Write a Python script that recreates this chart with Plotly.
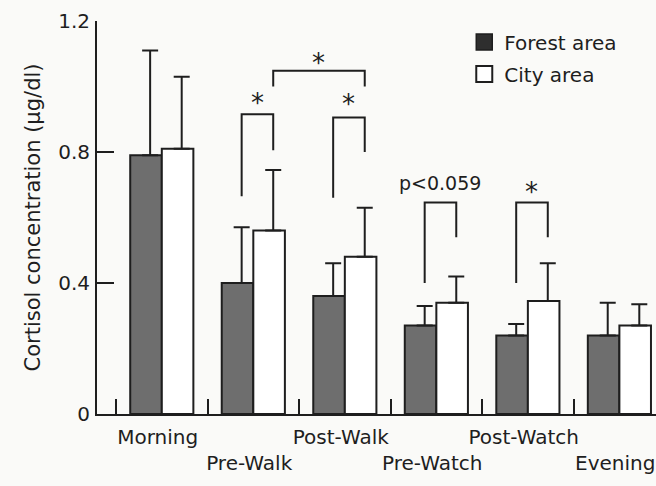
import plotly.graph_objects as go

categories = ["Morning", "Pre-Walk", "Post-Walk", "Pre-Watch", "Post-Watch", "Evening"]
tick_labels = ["Morning", "<br>Pre-Walk", "Post-Walk", "<br>Pre-Watch", "Post-Watch", "<br>Evening"]
forest_mean = [0.79, 0.40, 0.36, 0.27, 0.24, 0.24]
forest_err = [0.32, 0.17, 0.10, 0.06, 0.035, 0.10]
city_mean = [0.81, 0.56, 0.48, 0.34, 0.345, 0.27]
city_err = [0.22, 0.185, 0.15, 0.08, 0.115, 0.065]

# significance brackets: (left cat, left series, right cat, right series, top, left bottom, right bottom, label, label y)
brackets = [
    (1, "forest", 1, "city", 0.915, 0.665, 0.805, "*", 0.950),
    (2, "forest", 2, "city", 0.905, 0.660, 0.800, "*", 0.947),
    (1, "city", 2, "city", 1.048, 1.000, 1.000, "*", 1.072),
    (3, "forest", 3, "city", 0.646, 0.400, 0.540, "p<0.059", 0.704),
    (4, "forest", 4, "city", 0.646, 0.400, 0.540, "*", 0.677),
]

FONT = "DejaVu Sans"
INK = "#1e1e1e"
BG = "#fafaf8"
HALF = 0.1725      # half of a bar's width in category units
ERR_SHIFT = 0.045  # error whiskers sit slightly right of bar centre
LABEL_SHIFT = -0.045

x_idx = list(range(len(categories)))


def pos(i, series):
    return i + (-HALF if series == "forest" else HALF) + ERR_SHIFT


fig = go.Figure()
fig.add_trace(go.Bar(x=x_idx, y=forest_mean, name="Forest area", showlegend=False,
                     marker=dict(color="#6e6e6e", line=dict(color=INK, width=2))))
fig.add_trace(go.Bar(x=x_idx, y=city_mean, name="City area", showlegend=False,
                     marker=dict(color="#ffffff", line=dict(color=INK, width=2))))

# upper error whiskers
for series, means, errs in (("forest", forest_mean, forest_err), ("city", city_mean, city_err)):
    fig.add_trace(go.Scatter(
        x=[pos(i, series) for i in x_idx], y=means, mode="markers",
        marker=dict(size=1, color="rgba(0,0,0,0)"), showlegend=False, hoverinfo="skip",
        error_y=dict(type="data", symmetric=False, array=errs, arrayminus=[0] * len(errs),
                     color=INK, thickness=2, width=8)))

# legend entries
fig.add_trace(go.Scatter(x=[None], y=[None], mode="markers", name="Forest area", legendgroup="f",
                         marker=dict(symbol="square", size=16, color="#2e2e2e",
                                     line=dict(color=INK, width=1.5))))
fig.add_trace(go.Scatter(x=[None], y=[None], mode="markers", name="City area", legendgroup="c",
                         marker=dict(symbol="square", size=16, color="#ffffff",
                                     line=dict(color=INK, width=2))))

for li, ls, ri, rs, top, lb, rb, label, ly in brackets:
    xl, xr = pos(li, ls), pos(ri, rs)
    fig.add_shape(type="path", xref="x", yref="y",
                  path=f"M {xl},{lb} L {xl},{top} L {xr},{top} L {xr},{rb}",
                  line=dict(color=INK, width=2))
    fig.add_annotation(x=(xl + xr) / 2, y=ly, xref="x", yref="y", text=label, showarrow=False,
                       font=dict(family=FONT, size=26 if label == "*" else 19, color=INK),
                       yanchor="middle")

fig.update_layout(
    width=656, height=486,
    margin=dict(l=97, r=0, t=21, b=72),
    paper_bgcolor=BG, plot_bgcolor=BG,
    barmode="group", bargap=0.31, bargroupgap=0,
    font=dict(family=FONT, size=20, color=INK),
    showlegend=True,
    legend=dict(x=0.657, y=0.996, xanchor="left", yanchor="top", bgcolor="rgba(0,0,0,0)",
                tracegroupgap=3, font=dict(family=FONT, size=20, color=INK)),
    xaxis=dict(range=[-0.708, 5.40], tickmode="array", tickvals=[i + LABEL_SHIFT for i in x_idx],
               ticktext=tick_labels, tickangle=0, automargin=False, ticklabeloverflow="allow",
               ticks="", showline=True, linewidth=2, linecolor=INK, showgrid=False,
               zeroline=False, ticklabelstandoff=4,
               minor=dict(tickmode="array", tickvals=[i - 0.5 for i in x_idx],
                          ticks="inside", ticklen=15, tickwidth=2, tickcolor=INK, showgrid=False)),
    yaxis=dict(range=[0, 1.2], tickmode="array", tickvals=[0, 0.4, 0.8, 1.2], automargin=False,
               ticktext=["0", "0.4", "0.8", "1.2"], ticks="inside", ticklen=17, tickwidth=2,
               tickcolor=INK, showline=True, linewidth=2, linecolor=INK, showgrid=False,
               zeroline=False, ticklabelstandoff=1,
               title=dict(text="Cortisol concentration (µg/dl)", standoff=12,
                          font=dict(family=FONT, size=21, color=INK))),
)

fig.write_html("out.html", config={"displayModeBar": False},
               post_script="document.body.style.margin='0';")
